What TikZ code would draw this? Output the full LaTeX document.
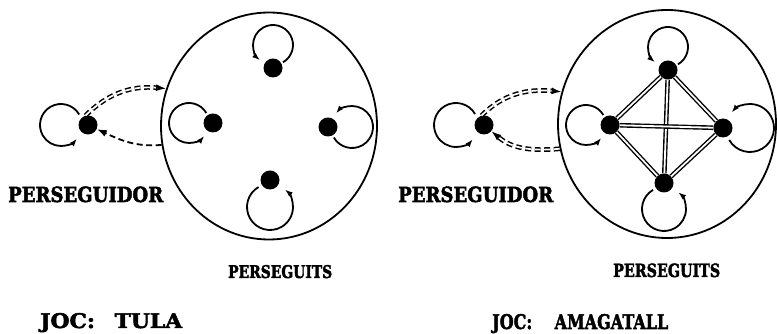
\documentclass[tikz,border=0pt]{standalone}
\usepackage{fontspec}
\setmainfont{DejaVu Serif}
\newfontfamily\heavy{DejaVu Serif}[BoldFeatures={FakeBold=2.5}]
\usepackage{graphicx}
\usetikzlibrary{shapes.geometric,arrows.meta,calc}
\tikzset{
  dot/.style={circle, fill=black, inner sep=0pt, minimum size=19pt},
  pool/.style={ellipse, draw, line width=1.8pt, inner sep=0pt},
  loopline/.style={line width=1.8pt, -{Latex[length=8pt,width=5.5pt]}},
  chase/.style={line width=1.8pt, dash pattern=on 6pt off 3.5pt, -{Latex[length=10pt,width=7pt]}},
  chasetwo/.style={chase, double, double distance=1.7pt, line width=1.5pt},
  link/.style={double, double distance=1.8pt, line width=1.4pt},
  lbl/.style={inner sep=0pt, font=\heavy\bfseries},
}
\newcommand\mkloop[4]{\draw[loopline] ($(#1)+(#2:#3)+(#2+210:#4)$) arc[start angle=#2+210, end angle=#2+500, radius=#4];}
\begin{document}
\begin{tikzpicture}[x=1pt,y=1pt]
\useasboundingbox (0,0) rectangle (777,334);
% ---- left: TULA
\node[pool, minimum width=216pt, minimum height=227pt] (C1) at (269,208) {};
\node[dot] (P1) at (88,209) {};
\node[dot] (T1) at (273,266) {};
\node[dot] (L1) at (213,211) {};
\node[dot] (R1) at (328,207) {};
\node[dot] (B1) at (270,154) {};
\mkloop{P1}{180}{27}{21}
\mkloop{T1}{90}{23}{20}
\mkloop{L1}{180}{24}{20}
\mkloop{R1}{0}{24}{21}
\mkloop{B1}{270}{27}{23}
\draw[chasetwo] (P1.105) to[out=45, in=175] (C1.160);
\draw[chase] (C1.190) to[out=185, in=-25] (P1);
% ---- right: AMAGATALL
\node[pool, minimum width=218pt, minimum height=228pt] (C2) at (667,210) {};
\node[dot] (P2) at (484,209) {};
\node[dot] (T2) at (668,264) {};
\node[dot] (L2) at (610,209) {};
\node[dot] (R2) at (723,206) {};
\node[dot] (B2) at (664,151) {};
\draw[link] (T2) -- (L2);
\draw[link] (T2) -- (R2);
\draw[link] (T2) -- (B2);
\draw[link] (L2) -- (R2);
\draw[link] (L2) -- (B2);
\draw[link] (R2) -- (B2);
\mkloop{P2}{180}{28}{22}
\mkloop{T2}{90}{23}{20}
\mkloop{L2}{180}{24}{20}
\mkloop{R2}{0}{27}{24}
\mkloop{B2}{270}{26}{22}
\draw[chasetwo] (P2.105) to[out=45, in=175] (C2.163);
\draw[chasetwo] (C2.193) to[out=185, in=-40] (P2);
% ---- labels
\node[lbl, anchor=base west] (pg1) at (8,132) {\resizebox{155pt}{15.5pt}{PERSEGUIDOR}};
\node[lbl, anchor=base west] (pg2) at (398,132) {\resizebox{155pt}{15.5pt}{PERSEGUIDOR}};
\node[lbl, anchor=base west] (ps1) at (228,56) {\resizebox{104pt}{13pt}{PERSEGUITS}};
\node[lbl, anchor=base west] (ps2) at (613,57) {\resizebox{107pt}{13.5pt}{PERSEGUITS}};
\node[lbl, anchor=base west] (j1) at (40,6) {\resizebox{142pt}{15pt}{JOC:\hspace{0.9em}TULA}};
\node[lbl, anchor=base west] (j2) at (492,5) {\resizebox{176pt}{15pt}{JOC:\hspace{1.4em}AMAGATALL}};
\end{tikzpicture}
\end{document}
